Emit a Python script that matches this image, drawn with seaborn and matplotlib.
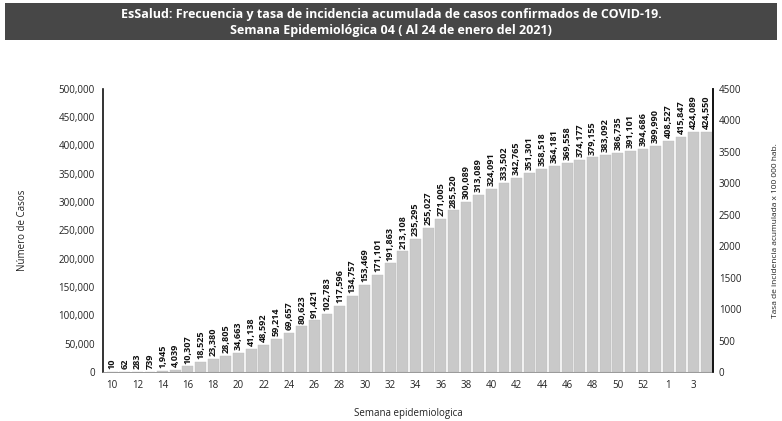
import matplotlib
matplotlib.use("Agg")
import matplotlib.pyplot as plt
import seaborn as sns
import pandas as pd
import numpy as np
from matplotlib.ticker import FuncFormatter, MultipleLocator

weeks = [str(w) for w in range(10, 54)] + ["1", "2", "3", "4"]
cases = [10, 62, 283, 739, 1945, 4039, 10307, 18525, 23380, 28805,
         34663, 41138, 48592, 59214, 69657, 80623, 91421, 102783, 117596, 134757,
         153469, 171101, 191863, 213108, 235295, 255027, 271005, 285520, 300089, 313089,
         324091, 333502, 342765, 351301, 358518, 364181, 369558, 374177, 379155, 383092,
         386735, 391101, 394686, 399990, 408527, 415847, 424089, 424550]
title_lines = ["EsSalud: Frecuencia y tasa de incidencia acumulada de casos confirmados de COVID-19.",
               "Semana Epidemiológica 04 ( Al 24 de enero del 2021)"]

df = pd.DataFrame({"Semana": weeks, "Casos": cases})

sns.set_theme(style="white")
plt.rcParams["font.family"] = ["Liberation Sans Narrow", "Open Sans", "DejaVu Sans"]

fig = plt.figure(figsize=(7.82, 4.21), dpi=100)
ax = fig.add_axes([0.132, 0.116, 0.78, 0.673])

sns.barplot(data=df, x="Semana", y="Casos", order=weeks, color="#c9c9c9",
            saturation=1, width=0.86, edgecolor="#bdbdbd", linewidth=0.3, ax=ax)

ax.bar_label(ax.containers[0], labels=[f"{v:,}" for v in cases], rotation=90,
             fontsize=6.6, fontweight="bold", padding=2, color="#111111")

ax.set_xlim(-0.7, len(weeks) - 0.45)
ax.set_ylim(0, 500000)
ax.yaxis.set_major_locator(MultipleLocator(50000))
ax.yaxis.set_major_formatter(FuncFormatter(lambda v, p: f"{int(v):,}"))
ax.set_xticks(range(0, len(weeks), 2))
ax.set_xticklabels(weeks[::2])
ax.tick_params(axis="both", labelsize=7, length=0, pad=6, colors="#222222")
ax.set_xlabel("Semana epidemiologica", fontsize=7, labelpad=12, color="#222222")
ax.set_ylabel("Número de Casos", fontsize=7, labelpad=22, color="#222222")

ax.spines["top"].set_visible(False)
ax.spines["left"].set_color("#111111")
ax.spines["left"].set_linewidth(1.2)
ax.spines["right"].set_color("#111111")
ax.spines["right"].set_linewidth(1.2)
ax.spines["bottom"].set_color("#888888")
ax.spines["bottom"].set_linewidth(0.6)

ax2 = ax.twinx()
ax2.set_ylim(0, 4500)
ax2.yaxis.set_major_locator(MultipleLocator(500))
ax2.tick_params(axis="y", labelsize=7, length=0, pad=4, colors="#222222")
for s in ["top", "left", "bottom"]:
    ax2.spines[s].set_visible(False)
ax2.spines["right"].set_color("#111111")
ax2.spines["right"].set_linewidth(1.2)
ax2.set_ylabel("Tasa de incidencia acumulada x 100 000 hab.", fontsize=6,
               labelpad=22, color="#222222")

# title banner
fig.patches.append(plt.Rectangle((0.006, 0.905), 0.988, 0.088, transform=fig.transFigure,
                                 facecolor="#474747", edgecolor="none", zorder=0))
fig.text(0.5, 0.966, title_lines[0], ha="center", va="center", fontsize=9,
         fontweight="bold", color="white")
fig.text(0.5, 0.928, title_lines[1], ha="center", va="center", fontsize=9,
         fontweight="bold", color="white")

fig.savefig("out.png", dpi=100)
